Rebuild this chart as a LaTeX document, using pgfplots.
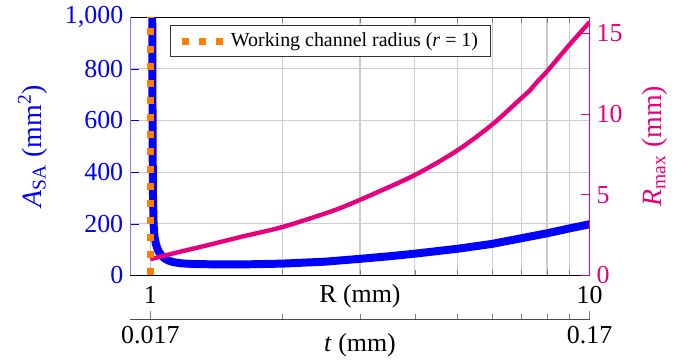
\documentclass[border=0pt]{standalone}
\usepackage{fontspec}
\setmainfont{Liberation Serif}
\usepackage{pgfplots}
\pgfplotsset{compat=1.18}
\definecolor{mag}{RGB}{230,0,126}
\definecolor{orng}{RGB}{255,128,0}
\begin{document}
\begin{tikzpicture}
% main axis: A_SA
\begin{axis}[
  width=230.5pt, height=129.5pt, scale only axis,
  xmode=log, xmin=0.9, xmax=10,
  ymin=0, ymax=1000,
  axis y line*=left,
  y axis line style={blue!50},
  x axis line style={black},
  xtick={1,10}, xticklabels={1,10},
  minor xtick={2,3,4,5,6,7,8,9},
  ytick={0,200,400,600,800,1000},
  xmajorgrids, xminorgrids, ymajorgrids,
  grid style={gray!40, line width=0.6pt},
  /pgf/number format/assume math mode=true,
  tick label style={font=\fontsize{13}{15}\selectfont},
  xticklabel style={yshift=-2pt},
  yticklabel style={blue},
  ytick style={blue},
  xtick style={gray},
  ylabel={\textit{A}\textsubscript{SA} (mm\textsuperscript{2})},
  ylabel style={blue, font=\fontsize{14}{16}\selectfont, inner sep=0pt, at={(axis description cs:-0.2126,0.5)}, anchor=center},
  xlabel={R (mm)},
  xlabel style={font=\fontsize{13}{15}\selectfont, at={(axis description cs:0.5,0)}, anchor=north, yshift=-1pt},
]
\addplot[blue, line width=4pt, line join=round] coordinates {
(1.008,1600) (1.010,1000) (1.012,500) (1.014,300) (1.017,200) (1.022,150)
(1.03,120) (1.043,94) (1.06,77) (1.076,66) (1.1,57) (1.13,51) (1.176,46.5)
(1.25,44) (1.35,43) (1.5,42.5) (1.7,43) (2.0,45.5) (2.5,53) (3,64) (3.5,74)
(4,84) (5,103) (6,122) (7,144) (8,163) (9,182) (10,198)
};
\end{axis}
% right axis: R_max
\begin{axis}[
  width=230.5pt, height=129.5pt, scale only axis,
  xmode=log, xmin=0.9, xmax=10,
  ymin=0, ymax=16,
  axis y line*=right, axis x line=none,
  ytick={0,5,10,15},
  y axis line style={mag},
  ytick style={mag},
  /pgf/number format/assume math mode=true,
  tick label style={font=\fontsize{13}{15}\selectfont},
  yticklabel style={mag},
  ylabel={\textit{R}\textsubscript{max} (mm)},
  ylabel style={mag, font=\fontsize{14}{16}\selectfont, inner sep=0pt, at={(axis description cs:1.141,0.5)}, anchor=center},
  legend style={at={(0.087,0.969)}, anchor=north west, font=\fontsize{10}{12}\selectfont, draw=black!80, inner xsep=4pt, inner ysep=1.5pt},
  legend image code/.code={\draw[#1] (0cm,0cm) -- (0.73cm,0cm);},
]
\addplot[mag, line width=2.2pt, line join=round, smooth, forget plot] coordinates {
(1,1.0) (1.135,1.38) (1.35,1.87) (1.61,2.39) (2,3.0) (2.57,3.95) (3,4.68)
(4,6.22) (5,7.75) (6,9.35) (7,11.0) (7.3,11.45) (7.6,12.0) (8,12.65)
(9,14.3) (10,15.7)
};
\addplot[orng, line width=3.5pt, dash pattern=on 3.5pt off 5.1pt] coordinates {(1,0) (1,16)};
\addlegendentry{Working channel radius (\textit{r} = 1)}
\end{axis}
% bottom axis: t
\begin{axis}[
  width=230.5pt, height=129.5pt, scale only axis,
  at={(0pt,-22pt)},
  xmode=log, xmin=0.0153, xmax=0.17,
  ymin=0, ymax=1,
  axis x line*=bottom, axis y line=none,
  x axis line style={black!70},
  xtick={0.017,0.17}, xticklabels={0.017,0.17},
  minor xtick={0.034,0.051,0.068,0.085,0.102,0.119,0.136,0.153},
  xtick style={gray},
  /pgf/number format/assume math mode=true,
  tick label style={font=\fontsize{13}{15}\selectfont},
  xlabel={\textit{t} (mm)},
  xlabel style={font=\fontsize{13}{15}\selectfont, at={(axis description cs:0.5,0)}, anchor=north, yshift=-3.5pt},
]
\addplot[draw=none] coordinates {(0.017,0) (0.17,1)};
\end{axis}
\path ([xshift=-9pt]current bounding box.west);
\path ([xshift=9.5pt]current bounding box.east);
\end{tikzpicture}
\end{document}
